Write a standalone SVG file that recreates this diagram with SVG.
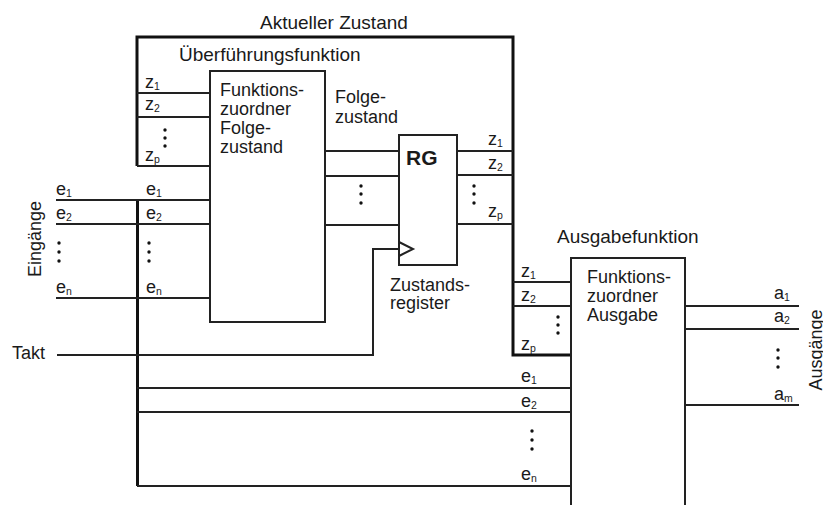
<svg xmlns="http://www.w3.org/2000/svg" width="823" height="505" viewBox="0 0 823 505">
<style>
text{font-family:"Liberation Sans",Arial,sans-serif;font-size:18px;fill:#1a1a1a}
.t{font-size:19px}
.rg{font-size:21px;font-weight:bold}
.s{font-size:10.5px}
.thin{stroke:#222;stroke-width:2;fill:none}
.thick{stroke:#111;stroke-width:3;fill:none}
.box{stroke:#222;stroke-width:2;fill:#fff}
.dot{fill:#111}
</style>
<rect width="823" height="505" fill="#fff"/>
<g id="connectors">
<path class="thick" d="M137,166 V37 H513 V355 H571"/>
<path class="thin" d="M137,93 H210 M137,117 H210 M137,166 H210"/>
<path class="thick" d="M137.5,200 V486"/>
<path class="thin" d="M56,200 H210 M56,224 H210 M56,298 H210"/>
<path class="thin" d="M325,151 H399 M325,176 H399 M325,225 H399"/>
<path class="thin" d="M457,151 H513 M457,175 H513 M457,224 H513"/>
<path class="thin" d="M513,282 H571 M513,306 H571"/>
<path class="thin" d="M137,388 H571 M137,412 H571 M137,486 H571"/>
<path class="thin" d="M685,306 H799 M685,329 H799 M685,405 H799"/>
<path class="thin" d="M57,355 H373 V249 H399"/>
</g>
<g id="ueberfuehrung">
<rect class="box" x="210" y="71" width="115" height="251"/>
<text x="220" y="96">Funktions-</text>
<text x="220" y="115">zuordner</text>
<text x="220" y="134">Folge-</text>
<text x="220" y="153">zustand</text>
</g>
<g id="register">
<rect class="box" x="399" y="135" width="58" height="130"/>
<path class="thin" d="M399,242 L413,249 L399,256"/>
<text class="rg" x="406" y="165">RG</text>
</g>
<g id="ausgabe">
<rect class="box" x="571" y="258" width="114" height="260"/>
<text x="587" y="283">Funktions-</text>
<text x="587" y="302">zuordner</text>
<text x="587" y="321">Ausgabe</text>
</g>
<g id="labels">
<text class="t" x="260" y="29">Aktueller Zustand</text>
<text class="t" x="179" y="61">Überführungsfunktion</text>
<text class="t" x="557" y="243">Ausgabefunktion</text>
<text x="335" y="103">Folge-</text>
<text x="335" y="123">zustand</text>
<text x="390" y="291">Zustands-</text>
<text x="390" y="309">register</text>
<text x="12" y="359">Takt</text>
<text transform="translate(41,239) rotate(-90)" text-anchor="middle">Eingänge</text>
<text transform="translate(822,350) rotate(-90)" text-anchor="middle">Ausgänge</text>
<text x="145" y="88">z<tspan class="s" dy="2">1</tspan></text>
<text x="145" y="110">z<tspan class="s" dy="2">2</tspan></text>
<text x="145" y="161">z<tspan class="s" dy="2">p</tspan></text>
<text x="488" y="145">z<tspan class="s" dy="2">1</tspan></text>
<text x="488" y="169">z<tspan class="s" dy="2">2</tspan></text>
<text x="488" y="217">z<tspan class="s" dy="2">p</tspan></text>
<text x="521" y="277">z<tspan class="s" dy="2">1</tspan></text>
<text x="521" y="301">z<tspan class="s" dy="2">2</tspan></text>
<text x="521" y="350">z<tspan class="s" dy="2">p</tspan></text>
<text x="56" y="195">e<tspan class="s" dy="2">1</tspan></text>
<text x="56" y="219">e<tspan class="s" dy="2">2</tspan></text>
<text x="56" y="293">e<tspan class="s" dy="2">n</tspan></text>
<text x="146" y="195">e<tspan class="s" dy="2">1</tspan></text>
<text x="146" y="219">e<tspan class="s" dy="2">2</tspan></text>
<text x="146" y="293">e<tspan class="s" dy="2">n</tspan></text>
<text x="521" y="382">e<tspan class="s" dy="2">1</tspan></text>
<text x="521" y="407">e<tspan class="s" dy="2">2</tspan></text>
<text x="521" y="480">e<tspan class="s" dy="2">n</tspan></text>
<text x="774" y="299">a<tspan class="s" dy="2">1</tspan></text>
<text x="774" y="322">a<tspan class="s" dy="2">2</tspan></text>
<text x="774" y="400">a<tspan class="s" dy="2">m</tspan></text>
</g>
<g id="dots">
<circle class="dot" cx="165" cy="130" r="1.7"/><circle class="dot" cx="165" cy="138" r="1.7"/><circle class="dot" cx="165" cy="146" r="1.7"/>
<circle class="dot" cx="361" cy="186" r="1.7"/><circle class="dot" cx="361" cy="194" r="1.7"/><circle class="dot" cx="361" cy="203" r="1.7"/>
<circle class="dot" cx="474" cy="186" r="1.7"/><circle class="dot" cx="474" cy="194" r="1.7"/><circle class="dot" cx="474" cy="203" r="1.7"/>
<circle class="dot" cx="59" cy="243" r="1.7"/><circle class="dot" cx="59" cy="252" r="1.7"/><circle class="dot" cx="59" cy="261" r="1.7"/>
<circle class="dot" cx="149" cy="243" r="1.7"/><circle class="dot" cx="149" cy="252" r="1.7"/><circle class="dot" cx="149" cy="261" r="1.7"/>
<circle class="dot" cx="558" cy="317" r="1.7"/><circle class="dot" cx="558" cy="325" r="1.7"/><circle class="dot" cx="558" cy="333" r="1.7"/>
<circle class="dot" cx="532" cy="431" r="1.7"/><circle class="dot" cx="532" cy="440" r="1.7"/><circle class="dot" cx="532" cy="449" r="1.7"/>
<circle class="dot" cx="778" cy="350" r="1.7"/><circle class="dot" cx="778" cy="358" r="1.7"/><circle class="dot" cx="778" cy="367" r="1.7"/>
</g>
</svg>
